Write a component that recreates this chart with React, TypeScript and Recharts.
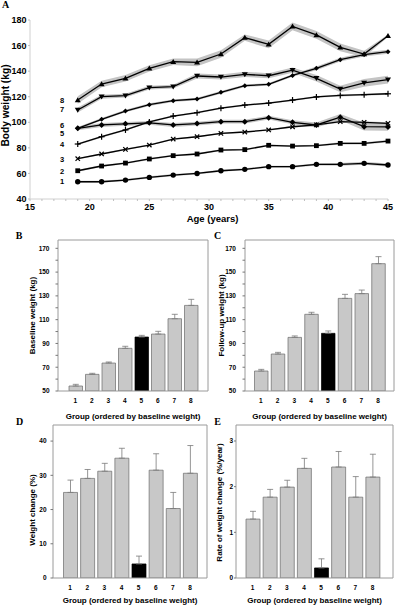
import React from 'react';
import {
  ComposedChart, Line, Area, XAxis, YAxis, BarChart, Bar, Cell, ErrorBar, ReferenceDot,
} from 'recharts';

const FONT = '"Liberation Sans", Arial, sans-serif';

// ---------- Panel A data ----------
const ages = [19, 21, 23, 25, 27, 29, 31, 33, 35, 37, 39, 41, 43, 45];
const s1 = [53.5, 53.5, 54.8, 56.9, 58.7, 60.0, 62.1, 63.2, 65.3, 65.3, 67.1, 67.1, 67.9, 66.6];
const s2 = [62.1, 65.8, 68.1, 71.3, 73.9, 75.2, 78.3, 78.6, 82.0, 81.4, 81.7, 83.5, 83.5, 85.3];
const s3 = [71.5, 75.2, 78.8, 82.2, 86.9, 88.7, 91.3, 92.4, 94.0, 96.5, 98.0, 100.5, 100.0, 99.2];
const s4 = [83.0, 88.7, 94.0, 100.3, 104.9, 107.5, 111.0, 113.5, 115.0, 117.4, 119.8, 121.0, 121.6, 122.3];
const s5 = [95.3, 97.9, 98.8, 99.6, 97.9, 99.0, 100.5, 100.5, 103.6, 100.0, 97.9, 104.0, 96.6, 96.4];
const s6 = [95.3, 102.3, 108.8, 113.8, 116.9, 118.2, 123.4, 128.6, 129.7, 136.6, 142.2, 149.0, 153.0, 155.2];
const s7 = [109.6, 120.0, 120.8, 127.1, 127.9, 136.2, 135.4, 137.5, 136.4, 140.8, 134.4, 126.0, 130.8, 133.3];
const s8 = [117.4, 129.9, 134.4, 142.2, 147.4, 146.9, 153.4, 166.2, 161.0, 175.0, 168.3, 158.6, 153.4, 167.7];

const se1 = [0.8, 0.8, 0.8, 0.8, 0.8, 0.8, 0.8, 0.8, 0.8, 0.8, 0.9, 1.0, 1.2, 1.2];
const se2 = [0.7, 0.7, 0.7, 0.7, 0.7, 0.7, 0.7, 0.7, 0.7, 0.7, 0.7, 0.8, 0.8, 0.9];
const se3 = [0.6, 0.6, 0.6, 0.6, 0.6, 0.6, 0.6, 0.6, 0.6, 0.7, 0.7, 0.8, 0.8, 0.9];
const se4 = [0.7, 0.7, 0.7, 0.7, 0.7, 0.7, 0.7, 0.7, 0.7, 0.7, 0.7, 0.8, 0.8, 0.8];
const se5 = [1.5, 1.5, 1.5, 1.5, 1.5, 1.5, 1.5, 1.5, 1.5, 1.5, 2.0, 2.5, 3.0, 3.0];
const se6 = [1.0, 1.0, 1.0, 1.0, 1.0, 1.0, 1.0, 1.0, 1.0, 1.0, 1.5, 1.5, 1.5, 1.5];
const se7 = [2.0, 1.5, 1.5, 1.5, 1.5, 2.0, 2.0, 2.0, 2.0, 2.0, 2.5, 2.5, 3.0, 3.0];
const se8 = [3.0, 2.5, 2.5, 2.5, 2.5, 3.0, 3.0, 2.5, 3.0, 3.0, 3.0, 3.0, 2.5, 1.0];

const seriesLabels = ['1', '2', '3', '4', '5', '6', '7', '8'];
const seriesLabelY = [53.6, 61.8, 71.2, 82.7, 91.3, 97.6, 110.2, 117.4];
const seriesShapes = ['circle', 'square', 'cross', 'plus', 'diamond', 'sdiamond', 'tdown', 'tup'];
const ageTicks = [15, 16, 17, 18, 19, 20, 21, 22, 23, 24, 25, 26, 27, 28, 29, 30, 31, 32, 33, 34, 35, 36, 37, 38, 39, 40, 41, 42, 43, 44, 45];
const weightTicksA = [40, 60, 80, 100, 120, 140, 160, 180];

// ---------- Bar panels data ----------
const groups = ['1', '2', '3', '4', '5', '6', '7', '8'];
const highlightGroup = '5';
const baseline = [54.2, 64.0, 73.5, 85.9, 95.4, 97.9, 110.8, 122.0];
const baselineErr = [1.4, 0.9, 0.9, 1.7, 1.4, 2.3, 3.7, 5.1];
const followup = [66.8, 81.1, 95.1, 114.5, 98.5, 127.9, 131.9, 157.1];
const followupErr = [1.4, 1.4, 1.2, 1.7, 2.0, 3.4, 3.0, 5.9];
const change = [25.0, 29.1, 31.2, 35.0, 4.1, 31.5, 20.3, 30.6];
const changeErr = [3.6, 2.6, 2.3, 2.9, 2.3, 4.8, 4.7, 8.1];
const rate = [1.29, 1.77, 1.99, 2.40, 0.22, 2.43, 1.77, 2.21];
const rateErr = [0.17, 0.17, 0.15, 0.22, 0.20, 0.34, 0.45, 0.50];

const kgTicks = [50, 60, 70, 80, 90, 100, 110, 120, 130, 140, 150, 160, 170];
const changeTicks = [0, 10, 20, 30, 40];
const rateTicks = [0, 1, 2, 3];

const allS = [s1, s2, s3, s4, s5, s6, s7, s8];
const allSE = [se1, se2, se3, se4, se5, se6, se7, se8];
const dataA = ages.map((age, i) => {
  const row: any = { age };
  allS.forEach((s, k) => {
    row[`s${k + 1}`] = s[i];
    row[`b${k + 1}`] = [s[i] - allSE[k][i], s[i] + allSE[k][i]];
  });
  return row;
});

function Marker({ cx, cy, shape }: any) {
  if (cx == null || cy == null) return null;
  const f = '#000';
  switch (shape) {
    case 'circle':
      return <circle cx={cx} cy={cy} r={2.7} fill={f} />;
    case 'square':
      return <rect x={cx - 2.4} y={cy - 2.4} width={4.8} height={4.8} fill={f} />;
    case 'cross':
      return (
        <g stroke={f} strokeWidth={1.2}>
          <line x1={cx - 2.2} y1={cy - 2.2} x2={cx + 2.2} y2={cy + 2.2} />
          <line x1={cx - 2.2} y1={cy + 2.2} x2={cx + 2.2} y2={cy - 2.2} />
        </g>
      );
    case 'plus':
      return (
        <g stroke={f} strokeWidth={1.2}>
          <line x1={cx - 3} y1={cy} x2={cx + 3} y2={cy} />
          <line x1={cx} y1={cy - 3} x2={cx} y2={cy + 3} />
        </g>
      );
    case 'diamond':
      return <polygon points={`${cx},${cy - 3} ${cx + 3},${cy} ${cx},${cy + 3} ${cx - 3},${cy}`} fill={f} />;
    case 'sdiamond':
      return <polygon points={`${cx},${cy - 2.5} ${cx + 2.5},${cy} ${cx},${cy + 2.5} ${cx - 2.5},${cy}`} fill={f} />;
    case 'tdown':
      return <polygon points={`${cx - 3},${cy - 2.2} ${cx + 3},${cy - 2.2} ${cx},${cy + 2.8}`} fill={f} />;
    case 'tup':
      return <polygon points={`${cx - 3},${cy + 2.2} ${cx + 3},${cy + 2.2} ${cx},${cy - 2.8}`} fill={f} />;
    default:
      return null;
  }
}

const VLabel = ({ viewBox, value, x, dy = 0, size }: any) => {
  const cy = viewBox.y + viewBox.height / 2 + dy;
  return (
    <text x={x} y={cy} transform={`rotate(-90 ${x} ${cy})`} textAnchor="middle" dominantBaseline="central"
      fontSize={size} fontWeight={700} fontFamily={FONT} fill="#000">{value}</text>
  );
};

const HLabel = ({ viewBox, value, dy, dx = 0, size }: any) => (
  <text x={viewBox.x + viewBox.width / 2 + dx} y={viewBox.y + dy} textAnchor="middle" dominantBaseline="central"
    fontSize={size} fontWeight={700} fontFamily={FONT} fill="#000">{value}</text>
);

function PanelA() {
  return (
    <ComposedChart width={400} height={225} data={dataA} margin={{ top: 20, right: 12, bottom: 0, left: 0 }}>
      <XAxis dataKey="age" type="number" domain={[15, 45]} ticks={ageTicks} interval={0}
        tickFormatter={(v: number) => (v % 5 === 0 ? String(v) : '')}
        height={26} tickSize={2} tickMargin={3}
        axisLine={{ stroke: '#d0d0d0' }} tickLine={{ stroke: '#c0c0c0' }}
        tick={{ fontSize: 9, fontWeight: 700, fill: '#000', fontFamily: FONT }}
        label={{ content: (p: any) => <HLabel viewBox={p.viewBox} value="Age (years)" dy={19} dx={3.5} size={9.5} /> }} />
      <YAxis type="number" domain={[40, 180]} ticks={weightTicksA} interval={0} width={30}
        tickSize={2} tickMargin={1.5}
        axisLine={{ stroke: '#d0d0d0' }} tickLine={{ stroke: '#c0c0c0' }}
        tick={{ fontSize: 9, fontWeight: 700, fill: '#000', fontFamily: FONT }}
        label={{ content: (p: any) => <VLabel viewBox={p.viewBox} value="Body weight (kg)" x={5} dy={-4} size={10.2} /> }} />
      {allS.map((_, k) => (
        <Area key={`b${k}`} dataKey={`b${k + 1}`} type="linear" fill="#c4c4c4" fillOpacity={1} stroke="none"
          dot={false} activeDot={false} isAnimationActive={false} />
      ))}
      {allS.map((_, k) => (
        <Line key={`s${k}`} dataKey={`s${k + 1}`} type="linear" stroke="#000" strokeWidth={1.3}
          activeDot={false} isAnimationActive={false}
          dot={(p: any) => <g key={`d${k}-${p.index}`}><Marker cx={p.cx} cy={p.cy} shape={seriesShapes[k]} /></g>} />
      ))}
      {seriesLabels.map((lab, k) => (
        <ReferenceDot key={`l${k}`} x={ages[0]} y={seriesLabelY[k]} r={0} fill="none" stroke="none"
          label={{ value: lab, position: 'left', offset: 13.5, fontSize: 7.5, fontWeight: 700, fill: '#000', fontFamily: FONT }} />
      ))}
    </ComposedChart>
  );
}

function BarPanel({ width, height, margin, values, errs, domain, ticks, majorStep, yWidth, yTickSize, yTickMargin,
  yLabel, yLabelX, yLabelDy, xPad, xAxisHeight, xTitleDy, barSize, xTickMargin }: any) {
  const data = groups.map((g, i) => ({ g, v: values[i], e: [0, errs[i]] }));
  return (
    <BarChart width={width} height={height} data={data}
      margin={{ top: margin.top - 1, right: margin.right - 1, bottom: margin.bottom, left: margin.left }}>
      <XAxis dataKey="g" padding={xPad} tickSize={0} tickMargin={xTickMargin}
        height={xAxisHeight} interval={0}
        axisLine={{ stroke: '#9a9a9a' }} tickLine={false}
        tick={{ fontSize: 6.5, fontWeight: 700, fill: '#000', fontFamily: FONT }}
        label={{ content: (p: any) => <HLabel viewBox={p.viewBox} value="Group (ordered by baseline weight)" dy={xTitleDy} size={8} /> }} />
      <XAxis xAxisId="top" orientation="top" dataKey="g" height={1} tick={false} tickLine={false}
        axisLine={{ stroke: '#9a9a9a' }} />
      <YAxis type="number" domain={domain} ticks={ticks} interval={0} width={yWidth}
        allowDataOverflow
        tickFormatter={(v: number) => ((Math.round((v - domain[0]) * 100) % Math.round(majorStep * 100)) === 0 ? String(v) : '')}
        tickSize={yTickSize} tickMargin={yTickMargin}
        axisLine={{ stroke: '#9a9a9a' }} tickLine={{ stroke: '#777' }}
        tick={{ fontSize: 6.5, fontWeight: 700, fill: '#000', fontFamily: FONT }}
        label={{ content: (p: any) => <VLabel viewBox={p.viewBox} value={yLabel} x={yLabelX} dy={yLabelDy} size={8} /> }} />
      <YAxis yAxisId="right" orientation="right" width={1} domain={domain} tick={false} tickLine={false}
        axisLine={{ stroke: '#9a9a9a' }} />
      <Bar dataKey="v" barSize={barSize} fill="#c8c8c8" stroke="#6a6a6a" strokeWidth={0.7}
        isAnimationActive={false}>
        {data.map((d) => (
          <Cell key={d.g} fill={d.g === highlightGroup ? '#000' : '#c8c8c8'} stroke={d.g === highlightGroup ? '#000' : '#6a6a6a'} />
        ))}
        <ErrorBar dataKey="e" direction="y" width={3} stroke="#7a7a7a" strokeWidth={0.8} isAnimationActive={false} />
      </Bar>
    </BarChart>
  );
}

export default function App() {
  const letter = { fontFamily: '"Liberation Serif", "Times New Roman", serif', fontWeight: 700, fontSize: 10, fill: '#000' } as any;
  return (
    <div style={{ position: 'absolute', left: 0, top: 0, width: 400, height: 605, background: '#fff', overflow: 'hidden' }}>
      <div style={{ position: 'absolute', left: 0, top: 0 }}>
        <PanelA />
      </div>
      <div style={{ position: 'absolute', left: 0, top: 228 }}>
        <BarPanel width={215} height={195} margin={{ top: 12, right: 7, bottom: 0, left: 0 }}
          values={baseline} errs={baselineErr} domain={[50, 177]} ticks={kgTicks} majorStep={20}
          yWidth={58} yTickSize={2.5} yTickMargin={6} yLabel="Baseline weight (kg)" yLabelX={32} yLabelDy={0}
          xPad={{ left: 9, right: 9 }} xAxisHeight={32} xTitleDy={25} barSize={13.5} xTickMargin={7.5} />
      </div>
      <div style={{ position: 'absolute', left: 200, top: 228 }}>
        <BarPanel width={200} height={195} margin={{ top: 12, right: 6, bottom: 0, left: 0 }}
          values={followup} errs={followupErr} domain={[50, 177]} ticks={kgTicks} majorStep={20}
          yWidth={45} yTickSize={2.5} yTickMargin={6.5} yLabel="Follow-up weight (kg)" yLabelX={21.7} yLabelDy={0}
          xPad={{ left: 7.5, right: 7.5 }} xAxisHeight={32} xTitleDy={25} barSize={13.5} xTickMargin={7.5} />
      </div>
      <div style={{ position: 'absolute', left: 0, top: 413 }}>
        <BarPanel width={215} height={192} margin={{ top: 12, right: 8, bottom: 0, left: 0 }}
          values={change} errs={changeErr} domain={[0, 44.7]} ticks={changeTicks} majorStep={10}
          yWidth={53} yTickSize={2.5} yTickMargin={4} yLabel="Weight change (%)" yLabelX={32.5} yLabelDy={8.5}
          xPad={{ left: 8.5, right: 8.5 }} xAxisHeight={27} xTitleDy={22} barSize={14} xTickMargin={7.4} />
      </div>
      <div style={{ position: 'absolute', left: 200, top: 413 }}>
        <BarPanel width={200} height={192} margin={{ top: 12, right: 7, bottom: 0, left: 0 }}
          values={rate} errs={rateErr} domain={[0, 3.35]} ticks={rateTicks} majorStep={1}
          yWidth={36} yTickSize={2} yTickMargin={1} yLabel="Rate of weight change (%/year)" yLabelX={19} yLabelDy={1}
          xPad={{ left: 8, right: 12 }} xAxisHeight={27} xTitleDy={22} barSize={14} xTickMargin={7.4} />
      </div>
      <svg width={400} height={605} style={{ position: 'absolute', left: 0, top: 0, pointerEvents: 'none' }}>
        <text x={5.5} y={8} textAnchor="middle" {...letter}>A</text>
        <text x={19} y={239} textAnchor="middle" {...letter}>B</text>
        <text x={217.5} y={239} textAnchor="middle" {...letter}>C</text>
        <text x={19.5} y={425} textAnchor="middle" {...letter}>D</text>
        <text x={217.5} y={425} textAnchor="middle" {...letter}>E</text>
      </svg>
    </div>
  );
}
